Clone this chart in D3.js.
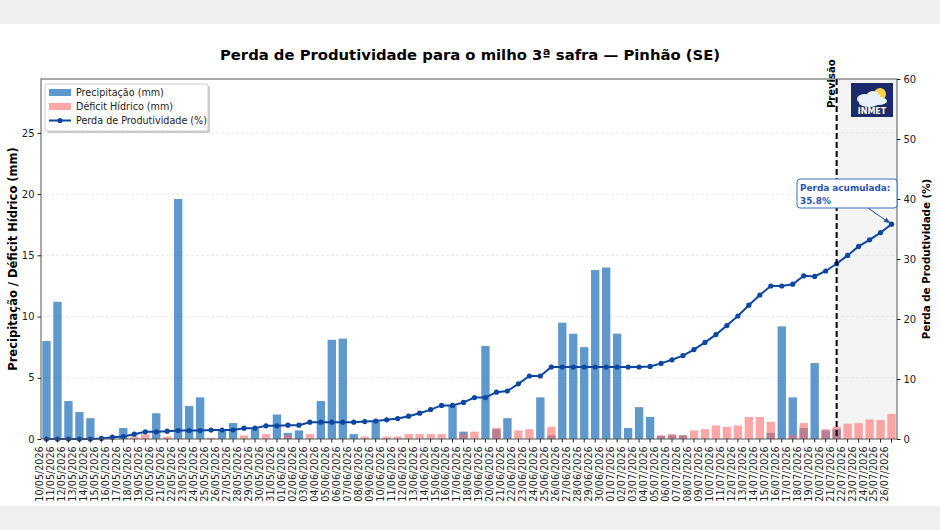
<!DOCTYPE html>
<html>
<head>
<meta charset="utf-8">
<script src="https://cdn.jsdelivr.net/npm/d3@7"></script>
<style>
  body { margin: 0; background: #efefef; }
  svg { display: block; font-family: "DejaVu Sans", sans-serif; }
</style>
</head>
<body>
<svg id="chart" width="940" height="530"></svg>
<script>
// dias da safra (10/05 a 26/07)
const fmt = d3.timeFormat("%d/%m/%Y");
const dates = d3.timeDay.range(new Date(2026, 4, 10), new Date(2026, 6, 27)).map(fmt);

const precip = [8.0, 11.2, 3.1, 2.2, 1.7, 0, 0, 0.9, 0, 0,
  2.1, 0, 19.6, 2.7, 3.4, 0, 0.7, 1.3, 0, 0.8,
  0, 2.0, 0.5, 0.7, 0, 3.1, 8.1, 8.2, 0.4, 0,
  1.4, 0, 0, 0, 0, 0, 0, 2.7, 0.6, 0,
  7.6, 0.8, 1.7, 0, 0, 3.4, 0.3, 9.5, 8.6, 7.5,
  13.8, 14.0, 8.6, 0.9, 2.6, 1.8, 0.25, 0.3, 0.3, 0,
  0, 0, 0, 0, 0, 0, 0.5, 9.2, 3.4, 0.9,
  6.2, 0.7, 0.8, 0, 0, 0, 0, 0];

const deficit = [0, 0, 0, 0, 0, 0, 0, 0, 0.2, 0.4,
  0, 0.2, 0, 0, 0, 0.1, 0, 0, 0.3, 0,
  0.4, 0, 0.3, 0, 0.4, 0, 0, 0, 0, 0.2,
  0, 0.2, 0.2, 0.4, 0.4, 0.4, 0.4, 0, 0.4, 0.6,
  0, 0.9, 0, 0.7, 0.8, 0, 1.0, 0, 0, 0,
  0, 0, 0, 0, 0, 0, 0.3, 0.4, 0.3, 0.7,
  0.8, 1.1, 1.0, 1.1, 1.8, 1.8, 1.4, 0, 0.3, 1.3,
  0, 0.8, 1.0, 1.25, 1.3, 1.6, 1.55, 2.05];

const perda = [0, 0, 0, 0, 0, 0.1, 0.3, 0.4, 0.8, 1.2,
  1.2, 1.3, 1.4, 1.4, 1.4, 1.5, 1.5, 1.5, 1.8, 1.8,
  2.2, 2.2, 2.3, 2.3, 2.8, 2.8, 2.8, 2.8, 2.8, 2.9,
  3.0, 3.2, 3.4, 3.8, 4.3, 4.9, 5.6, 5.6, 6.1, 6.9,
  6.9, 7.8, 8.0, 9.2, 10.5, 10.5, 12.0, 12.0, 12.0, 12.0,
  12.0, 12.0, 12.0, 12.0, 12.0, 12.1, 12.6, 13.2, 13.9, 14.9,
  16.1, 17.4, 18.9, 20.5, 22.3, 24.0, 25.5, 25.5, 25.8, 27.2,
  27.1, 28.0, 29.2, 30.6, 32.1, 33.2, 34.4, 35.8];

const leftTicks = [0, 5, 10, 15, 20, 25];
const rightTicks = [0, 10, 20, 30, 40, 50, 60];
const inicioPrevisao = "21/07/2026";

const svg = d3.select("#chart");
const m = {left: 41, right: 897, top: 79, bottom: 439};

// fundo branco da figura
svg.append("rect").attr("x", 0).attr("y", 24).attr("width", 940).attr("height", 482).attr("fill", "#fff");

const x = d3.scaleBand().domain(dates).range([m.left, m.right]).paddingInner(0.24).paddingOuter(0.12);
const yL = d3.scaleLinear().domain([0, d3.max(precip) * 1.5]).range([m.bottom, m.top]);
const yR = d3.scaleLinear().domain([0, 60]).range([m.bottom, m.top]);
const cx = d => x(d) + x.bandwidth() / 2;

// área de previsão
const xPrev = cx(inicioPrevisao);
svg.append("rect")
    .attr("x", xPrev).attr("y", m.top)
    .attr("width", m.right - xPrev).attr("height", m.bottom - m.top)
    .attr("fill", "#f4f4f4");

// grade
svg.append("g").selectAll("line")
    .data(leftTicks.slice(1))
    .join("line")
    .attr("x1", m.left).attr("x2", m.right)
    .attr("y1", d => yL(d)).attr("y2", d => yL(d))
    .attr("stroke", "#e2e2e2").attr("stroke-dasharray", "3,2").attr("stroke-width", 0.8);

// barras
svg.append("g").selectAll("rect")
    .data(dates)
    .join("rect")
    .attr("x", d => x(d)).attr("width", x.bandwidth())
    .attr("y", (d, i) => yL(precip[i]))
    .attr("height", (d, i) => m.bottom - yL(precip[i]))
    .attr("fill", "#377ec0").attr("fill-opacity", 0.8);

svg.append("g").selectAll("rect")
    .data(dates)
    .join("rect")
    .attr("x", d => x(d)).attr("width", x.bandwidth())
    .attr("y", (d, i) => yL(deficit[i]))
    .attr("height", (d, i) => m.bottom - yL(deficit[i]))
    .attr("fill", "#ff6b6b").attr("fill-opacity", 0.6);

// linha de perda
const line = d3.line().x((d, i) => cx(dates[i])).y(d => yR(d));
svg.append("path")
    .datum(perda)
    .attr("d", line)
    .attr("fill", "none").attr("stroke", "#0d47a1").attr("stroke-width", 2);
svg.append("g").selectAll("circle")
    .data(perda)
    .join("circle")
    .attr("cx", (d, i) => cx(dates[i])).attr("cy", d => yR(d))
    .attr("r", 2.6).attr("fill", "#0d47a1");

// linha vertical previsão
svg.append("line")
    .attr("x1", xPrev).attr("x2", xPrev)
    .attr("y1", m.top).attr("y2", m.bottom)
    .attr("stroke", "#000").attr("stroke-width", 2).attr("stroke-dasharray", "6,3");
svg.append("text")
    .attr("transform", `translate(${xPrev - 2},${m.top + 29}) rotate(-90)`)
    .attr("font-size", 10).attr("font-weight", "bold")
    .text("Previsão");

// moldura
svg.append("rect")
    .attr("x", m.left).attr("y", m.top)
    .attr("width", m.right - m.left).attr("height", m.bottom - m.top)
    .attr("fill", "none").attr("stroke", "#555").attr("stroke-width", 1);

// eixos
const axL = svg.append("g").attr("transform", `translate(${m.left},0)`)
    .call(d3.axisLeft(yL).tickValues(leftTicks).tickSize(3.5).tickPadding(3));
const axR = svg.append("g").attr("transform", `translate(${m.right},0)`)
    .call(d3.axisRight(yR).tickValues(rightTicks).tickSize(3.5).tickPadding(3));
const axB = svg.append("g").attr("transform", `translate(0,${m.bottom})`)
    .call(d3.axisBottom(x).tickSize(3.5).tickPadding(2));
[axL, axR, axB].forEach(a => {
    a.select(".domain").remove();
    a.selectAll("text").attr("font-family", "DejaVu Sans").attr("fill", "#222");
    a.selectAll("line").attr("stroke", "#222");
});
axL.selectAll("text").attr("font-size", 10);
axR.selectAll("text").attr("font-size", 10);
axB.selectAll("text")
    .attr("font-size", 9.6)
    .attr("transform", "rotate(-90)")
    .attr("text-anchor", "end")
    .attr("dx", "-0.35em").attr("dy", "-0.32em")
    .attr("y", 0).attr("x", -4);

// títulos
svg.append("text")
    .attr("x", 470).attr("y", 60)
    .attr("text-anchor", "middle").attr("font-size", 14.8).attr("font-weight", "bold")
    .text("Perda de Produtividade para o milho 3ª safra — Pinhão (SE)");
svg.append("text")
    .attr("transform", `translate(17,${(m.top + m.bottom) / 2}) rotate(-90)`)
    .attr("text-anchor", "middle").attr("font-size", 11.5).attr("font-weight", "bold")
    .text("Precipitação / Déficit Hídrico (mm)");
svg.append("text")
    .attr("transform", `translate(930,${(m.top + m.bottom) / 2}) rotate(-90)`)
    .attr("text-anchor", "middle").attr("font-size", 10.3).attr("font-weight", "bold")
    .text("Perda de Produtividade (%)");

// legenda
const lg = svg.append("g");
lg.append("rect").attr("x", 47).attr("y", 86).attr("width", 163).attr("height", 47)
    .attr("rx", 2).attr("fill", "#999").attr("opacity", 0.5);
lg.append("rect").attr("x", 45).attr("y", 84).attr("width", 163).attr("height", 47)
    .attr("rx", 2).attr("fill", "#fff").attr("stroke", "#ccc");
const itens = [
    {nome: "Precipitação (mm)", tipo: "bar", cor: "#377ec0", op: 0.8},
    {nome: "Déficit Hídrico (mm)", tipo: "bar", cor: "#ff6b6b", op: 0.6},
    {nome: "Perda de Produtividade (%)", tipo: "line", cor: "#0d47a1"}
];
itens.forEach((it, i) => {
    const yy = 92.5 + i * 14;
    if (it.tipo === "bar") {
        lg.append("rect").attr("x", 49).attr("y", yy - 3.5).attr("width", 22).attr("height", 7)
            .attr("fill", it.cor).attr("fill-opacity", it.op);
    } else {
        lg.append("line").attr("x1", 49).attr("x2", 71).attr("y1", yy).attr("y2", yy)
            .attr("stroke", it.cor).attr("stroke-width", 2);
        lg.append("circle").attr("cx", 60).attr("cy", yy).attr("r", 2.6).attr("fill", it.cor);
    }
    lg.append("text").attr("x", 76).attr("y", yy + 3.5).attr("font-size", 9.6).attr("fill", "#222")
        .text(it.nome);
});

// logo INMET
const logo = svg.append("g").attr("transform", "translate(851,83)");
logo.append("rect").attr("width", 42).attr("height", 34).attr("fill", "#1b2a6b");
logo.append("circle").attr("cx", 29).attr("cy", 11).attr("r", 6).attr("fill", "#f7d54a");
[[14, 16, 8, 5], [22, 14, 7, 6], [28, 18, 8, 4], [18, 20, 10, 4]].forEach(c => {
    logo.append("ellipse").attr("cx", c[0]).attr("cy", c[1]).attr("rx", c[2]).attr("ry", c[3])
        .attr("fill", "#e8f0fb");
});
logo.append("text").attr("x", 21).attr("y", 31).attr("text-anchor", "middle")
    .attr("font-size", 8).attr("font-weight", "bold").attr("fill", "#fff").text("INMET");

// anotação
const ultimo = perda.length - 1;
const px = cx(dates[ultimo]), py = yR(perda[ultimo]);
const ann = svg.append("g");
ann.append("rect").attr("x", 797).attr("y", 179).attr("width", 100).attr("height", 29)
    .attr("rx", 3).attr("fill", "#fff").attr("stroke", "#3a6fc6").attr("stroke-width", 1);
ann.append("text").attr("x", 800).attr("y", 191).attr("font-size", 8.9).attr("font-weight", "bold")
    .attr("fill", "#1f55b3").text("Perda acumulada:");
ann.append("text").attr("x", 800).attr("y", 204).attr("font-size", 8.9).attr("font-weight", "bold")
    .attr("fill", "#1f55b3").text(perda[ultimo].toFixed(1) + "%");
ann.append("line").attr("x1", 868).attr("y1", 208).attr("x2", px - 3).attr("y2", py - 2)
    .attr("stroke", "#1f4fa0").attr("stroke-width", 1);
ann.append("path")
    .attr("d", `M${px - 1},${py - 1} l-7,-1.5 l3,-4 z`)
    .attr("fill", "#1f4fa0");
</script>
</body>
</html>
